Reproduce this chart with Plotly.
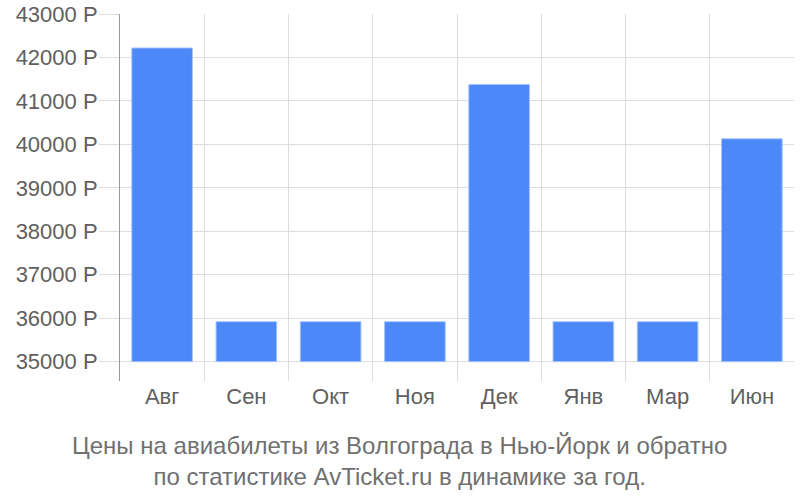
import plotly.graph_objects as go

months = ["Авг", "Сен", "Окт", "Ноя", "Дек", "Янв", "Мар", "Июн"]
prices = [42220, 35920, 35920, 35920, 41380, 35920, 35920, 40130]
base_value = 35000
y_ticks = list(range(35000, 43001, 1000))
y_tick_text = [f"{v} Р" for v in y_ticks]
caption = "Цены на авиабилеты из Волгограда в Нью-Йорк и обратно<br>по статистике AvTicket.ru в динамике за год."

fig = go.Figure(go.Bar(
    x=months,
    y=[p - base_value for p in prices],
    base=base_value,
    marker=dict(color="#4d88f9", line=dict(color="#a8c4fb", width=1)),
    width=0.72,
    hoverinfo="skip",
))

fig.update_layout(
    width=800, height=500,
    margin=dict(l=120, r=6, t=14, b=119, autoexpand=False),
    paper_bgcolor="white", plot_bgcolor="white",
    font=dict(family="Liberation Sans, Arial, sans-serif", color="#606060", size=22),
    showlegend=False,
    annotations=[dict(
        text=caption, x=0.4154, xref="paper", xanchor="center",
        y=-0.133, yref="paper", yanchor="top", showarrow=False,
        font=dict(family="Liberation Sans, sans-serif", size=24, color="#707070"),
        align="center",
    )],
)
fig.update_xaxes(
    type="category", range=[-0.5, 7.5], tickson="boundaries",
    showgrid=True, gridcolor="#dddddd", gridwidth=1,
    ticks="", showline=False, zeroline=False, automargin=False,
    tickfont=dict(size=22, color="#606060"),
)
fig.update_yaxes(
    range=[34555, 43001], tickvals=y_ticks, ticktext=y_tick_text,
    showgrid=True, gridcolor="#dddddd", gridwidth=1,
    ticks="outside", ticklen=20, tickcolor="#dddddd",
    showline=True, linecolor="#999999", linewidth=1,
    zeroline=False, automargin=False, ticklabeloverflow="allow",
    ticklabelstandoff=-3,
    tickfont=dict(size=22, color="#606060"),
)

fig.write_html("out.html", config={"displayModeBar": False},
               post_script="document.body.style.margin='0';")
